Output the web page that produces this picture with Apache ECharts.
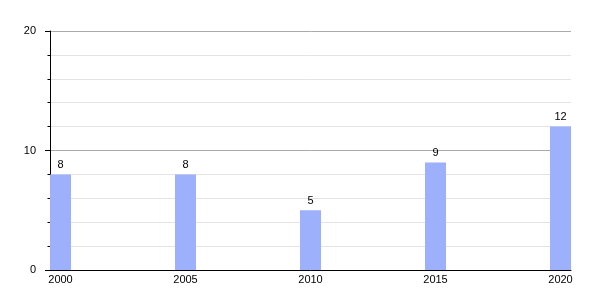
<!DOCTYPE html>
<html>
<head>
<meta charset="utf-8">
<script src="https://cdn.jsdelivr.net/npm/echarts@6/dist/echarts.min.js"></script>
<style>html,body{margin:0;padding:0;background:#fff;}#c{width:600px;height:300px;}</style>
</head>
<body>
<div id="c"></div>
<script>
var years = [2000, 2005, 2010, 2015, 2020];
var values = [8, 8, 5, 9, 12];
var yTicks = [0, 10, 20];

var chart = echarts.init(document.getElementById('c'), null, {renderer: 'canvas'});
var font = 'Liberation Sans, Arial, sans-serif';
chart.setOption({
  animation: false,
  grid: {left: 50, right: 29, top: 31, bottom: 30},
  xAxis: {
    type: 'value',
    min: 1999.58,
    max: 2020.42,
    axisLine: {show: true, lineStyle: {color: '#000', width: 1}},
    axisTick: {show: false},
    splitLine: {show: false},
    axisLabel: {
      customValues: years,
      formatter: function (v) { return String(v); },
      color: '#000', fontSize: 11, fontFamily: font, margin: 4
    }
  },
  yAxis: {
    type: 'value',
    min: 0, max: 20, interval: 10,
    axisLine: {show: true, lineStyle: {color: '#000', width: 1}},
    axisTick: {show: true, length: 5, lineStyle: {color: '#000'}},
    minorTick: {show: true, splitNumber: 5, length: 2.5, lineStyle: {color: '#000'}},
    splitLine: {show: true, lineStyle: {color: '#aaaaaa', width: 1}},
    minorSplitLine: {show: true, lineStyle: {color: '#e3e3e3', width: 1}},
    axisLabel: {color: '#000', fontSize: 11, fontFamily: font, margin: 14,
      customValues: yTicks}
  },
  series: [{
    type: 'bar',
    data: years.map(function (y, i) { return [y, values[i]]; }),
    barWidth: 21,
    itemStyle: {color: '#9cb0fc'},
    label: {show: true, position: 'top', color: '#000', fontSize: 11, fontFamily: font, distance: 4}
  }]
});
</script>
</body>
</html>
